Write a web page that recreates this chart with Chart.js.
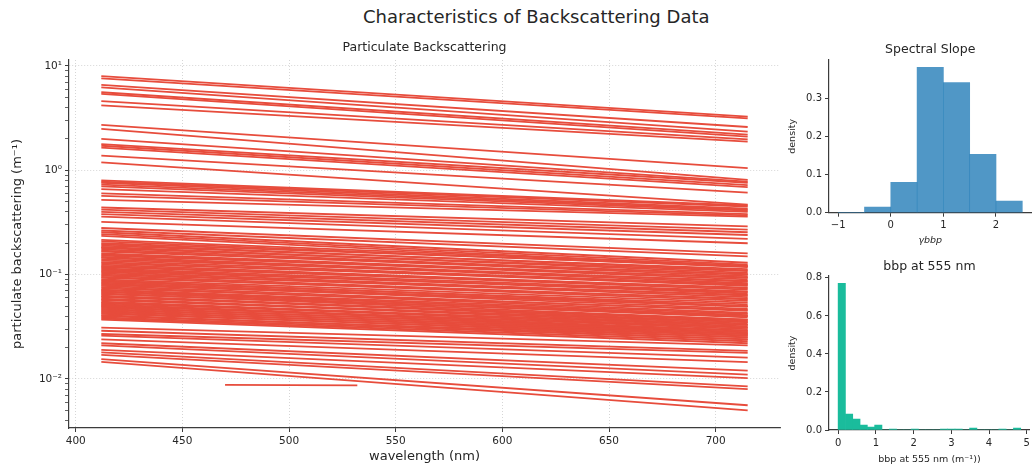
<!DOCTYPE html>
<html><head><meta charset="utf-8">
<script src="https://cdn.jsdelivr.net/npm/chart.js@4.4.1/dist/chart.umd.min.js"></script>
<style>
html,body{margin:0;padding:0;background:#fff;}
body{width:1033px;height:469px;position:relative;overflow:hidden;font-family:"DejaVu Sans",sans-serif;}
#suptitle{position:absolute;left:363px;top:6px;white-space:nowrap;font-size:18px;color:#262626;line-height:22px;}
canvas{position:absolute;}
</style></head><body>
<div id="suptitle">Characteristics of Backscattering Data</div>
<canvas id="main" width="800" height="469" style="left:0;top:0"></canvas>
<canvas id="slope" width="263" height="252" style="left:770px;top:0"></canvas>
<canvas id="bbp" width="263" height="229" style="left:770px;top:240px"></canvas>
<script>
// ---------- data ----------
const WAVELENGTHS = [412, 715];
const BBP_412 = [
  8.0, 7.6, 6.6, 6.25, 5.6, 5.4, 4.6, 4.2,
  2.72, 2.49, 2.0, 1.78, 1.72, 1.65, 1.38, 1.19,
  0.80, 0.78, 0.76, 0.73, 0.70, 0.66, 0.60, 0.57, 0.52,
  0.44, 0.42, 0.40, 0.38, 0.36, 0.32, 0.28, 0.265, 0.255, 0.245, 0.235,
  0.215, 0.208, 0.2, 0.195, 0.19, 0.184, 0.18, 0.175, 0.17, 0.166,
  0.16, 0.156, 0.152, 0.148, 0.145, 0.14, 0.136, 0.132, 0.128, 0.125,
  0.121, 0.118, 0.115, 0.112, 0.109, 0.106, 0.103, 0.1, 0.098, 0.095,
  0.093, 0.09, 0.088, 0.086, 0.084, 0.082, 0.08, 0.078, 0.076, 0.074,
  0.072, 0.071, 0.069, 0.068, 0.066, 0.065, 0.063, 0.062, 0.061, 0.059,
  0.058, 0.057, 0.055, 0.054, 0.053, 0.052, 0.051, 0.05, 0.049, 0.048,
  0.047, 0.046, 0.045, 0.044, 0.043, 0.042, 0.041, 0.04, 0.039, 0.038, 0.037,
  0.031, 0.029, 0.027, 0.026, 0.024, 0.022, 0.021, 0.019, 0.018, 0.017, 0.0155, 0.0146
];
const BBP_715 = [
  3.27, 3.15, 2.6, 2.35, 2.2, 2.1, 1.98, 1.88,
  1.05, 0.81, 0.78, 0.76, 0.72, 0.69, 0.61, 0.47,
  0.46, 0.45, 0.43, 0.42, 0.41, 0.40, 0.38, 0.37, 0.36,
  0.29, 0.27, 0.255, 0.24, 0.22, 0.2, 0.16, 0.15, 0.13, 0.125, 0.12,
  0.122, 0.118, 0.12, 0.11, 0.113, 0.104, 0.108, 0.1, 0.097, 0.101,
  0.093, 0.09, 0.094, 0.086, 0.083, 0.087, 0.08, 0.078, 0.081, 0.074,
  0.072, 0.075, 0.069, 0.066, 0.068, 0.063, 0.061, 0.064, 0.058, 0.056,
  0.059, 0.054, 0.05, 0.052, 0.049, 0.047, 0.05, 0.045, 0.043, 0.046,
  0.042, 0.04, 0.041, 0.039, 0.037, 0.04, 0.036, 0.035, 0.037, 0.034,
  0.033, 0.035, 0.032, 0.031, 0.033, 0.03, 0.029, 0.031, 0.028, 0.029,
  0.027, 0.028, 0.026, 0.027, 0.025, 0.026, 0.024, 0.025, 0.024, 0.023, 0.022,
  0.021, 0.0186, 0.0178, 0.016, 0.0145, 0.012, 0.011, 0.0102, 0.0085, 0.008, 0.0056, 0.005
];
const SHORT_WAVELENGTHS = [470, 532];
const SHORT_BBP = [0.0088, 0.0087];

const X_TICKS = [400, 450, 500, 550, 600, 650, 700];
const Y_DECADES = [0.01, 0.1, 1, 10];
const Y_DECADE_LABELS = ['10⁻²', '10⁻¹', '10⁰', '10¹'];

const SLOPE_EDGES = [-1, -0.5, 0, 0.5, 1, 1.5, 2, 2.5];
const SLOPE_DENSITY = [0, 0.015, 0.08, 0.382, 0.342, 0.153, 0.0305];
const SLOPE_TICKS = [-1, 0, 1, 2];
const SLOPE_Y_TICKS = [0, 0.1, 0.2, 0.3];

const BBP555_EDGES = [0, 0.1936, 0.3872, 0.5808, 0.7744, 0.968, 1.1616, 1.3552, 1.5488, 1.7424,
  1.936, 2.1296, 2.3232, 2.5168, 2.7104, 2.904, 3.0976, 3.2912, 3.4848, 3.6784,
  3.872, 4.0656, 4.2592, 4.4528, 4.6464, 4.84];
const BBP555_DENSITY = [0.772, 0.084, 0.058, 0.026, 0.016, 0.026, 0, 0.005, 0, 0,
  0.005, 0, 0, 0, 0.005, 0.005, 0.005, 0, 0.01, 0,
  0, 0, 0.005, 0, 0.01];
const BBP555_TICKS = [0, 1, 2, 3, 4, 5];
const BBP555_Y_TICKS = [0, 0.2, 0.4, 0.6, 0.8];

// ---------- style ----------
const FONT = '"DejaVu Sans", sans-serif';
const TXT = '#262626';
const SPINE = '#3c3c3c';
const RED = '#e74c3c';
const BLUE = 'rgba(41,128,185,0.82)';
const GREEN = '#1abc9c';
const fmtMinus = v => String(v).replace('-', '\u2212');

// ---------- main chart ----------
const lineSets = BBP_412.map((v, i) => ({
  data: [{x: WAVELENGTHS[0], y: v}, {x: WAVELENGTHS[1], y: BBP_715[i]}],
  borderColor: RED, borderWidth: 1.8, pointRadius: 0, fill: false, tension: 0
}));
lineSets.push({
  data: SHORT_WAVELENGTHS.map((w, i) => ({x: w, y: SHORT_BBP[i]})),
  borderColor: RED, borderWidth: 1.8, pointRadius: 0, fill: false, tension: 0
});

const yTicks = [];
for (let e = -3; e <= 1; e++) {
  for (let m = 1; m <= 9; m++) {
    const v = m * Math.pow(10, e);
    if (v >= 0.00339 && v <= 11.41) yTicks.push({value: v, major: m === 1});
  }
}

new Chart(document.getElementById('main'), {
  type: 'line',
  data: {datasets: lineSets},
  options: {
    responsive: false, animation: false, devicePixelRatio: 1,
    layout: {padding: {left: 0, right: 20, top: 0, bottom: 0}},
    plugins: {
      legend: {display: false}, tooltip: {enabled: false},
      title: {display: true, text: 'Particulate Backscattering', fullSize: false,
        color: TXT, font: {family: FONT, size: 12.5, weight: 'normal', lineHeight: 1.2},
        padding: {top: 40.5, bottom: 4.5}}
    },
    scales: {
      x: {
        type: 'linear', min: 396.85, max: 730.15,
        afterBuildTicks: s => { s.ticks = X_TICKS.map(v => ({value: v})); },
        afterFit: s => { s.height = 41; },
        grid: {color: 'rgba(190,190,190,0.8)', lineWidth: 0.8, tickColor: SPINE, tickLength: 4, tickWidth: 1},
        border: {color: SPINE, width: 1.2, dash: [1, 2]},
        ticks: {color: TXT, font: {family: FONT, size: 10.5}, padding: 3, maxRotation: 0, autoSkip: false},
        title: {display: true, text: 'wavelength (nm)', color: TXT,
          font: {family: FONT, size: 13, lineHeight: 1.2}, padding: {top: 0, bottom: 4.2}}
      },
      y: {
        type: 'logarithmic', min: 0.00339, max: 11.41,
        afterBuildTicks: s => { s.ticks = yTicks.map(t => ({value: t.value, major: t.major})); },
        afterFit: s => { s.width = 69; },
        grid: {
          color: c => (c.tick && c.tick.major) ? 'rgba(190,190,190,0.8)' : 'rgba(0,0,0,0)',
          lineWidth: 0.8, tickColor: SPINE,
          tickLength: 4, tickWidth: c => (c.tick && c.tick.major) ? 1 : 0.8
        },
        border: {color: SPINE, width: 1.2, dash: [1, 2]},
        ticks: {
          color: TXT, font: {family: FONT, size: 10.5}, padding: 3, autoSkip: false,
          callback: (v) => { const k = Y_DECADES.findIndex(d => Math.abs(d - v) < d * 1e-6); return k >= 0 ? Y_DECADE_LABELS[k] : ''; }
        },
        title: {display: true, text: 'particulate backscattering (m⁻¹)', color: TXT,
          font: {family: FONT, size: 13, lineHeight: 1.2}, padding: {top: 10.2, bottom: 0}}
      }
    }
  }
});

// ---------- histograms ----------
function histChart(id, cfg) {
  const centers = cfg.density.map((d, i) => ({x: (cfg.edges[i] + cfg.edges[i + 1]) / 2, y: d}));
  return new Chart(document.getElementById(id), {
    type: 'bar',
    data: {datasets: [{data: centers, backgroundColor: cfg.color, borderWidth: 0,
      barPercentage: 1, categoryPercentage: 1}]},
    options: {
      responsive: false, animation: false, devicePixelRatio: 1,
      layout: {padding: {left: 0, right: cfg.padRight, top: 0, bottom: 0}},
      plugins: {
        legend: {display: false}, tooltip: {enabled: false},
        title: {display: true, text: cfg.title, fullSize: false, color: TXT,
          font: {family: FONT, size: 12.5, weight: 'normal', lineHeight: 1.2}, padding: cfg.titlePad}
      },
      scales: {
        x: {
          type: 'linear', min: cfg.xmin, max: cfg.xmax, offset: false,
          afterBuildTicks: s => { s.ticks = cfg.xticks.map(v => ({value: v})); },
          afterFit: s => { s.height = cfg.xh; },
          grid: {drawOnChartArea: false, color: SPINE, tickLength: 4, tickWidth: 1, offset: false},
          border: {color: SPINE, width: 1.2},
          ticks: {color: TXT, font: {family: FONT, size: 10}, padding: 3, maxRotation: 0, autoSkip: false,
            callback: v => fmtMinus(v)},
          title: {display: true, text: cfg.xtitle, color: TXT,
            font: {family: FONT, size: 9.5, style: cfg.xstyle, lineHeight: 1.2}, padding: {top: 0, bottom: cfg.xtitlePad}}
        },
        y: {
          type: 'linear', min: 0, max: cfg.ymax,
          afterBuildTicks: s => { s.ticks = cfg.yticks.map(v => ({value: v})); },
          afterFit: s => { s.width = 59; },
          grid: {drawOnChartArea: false, color: SPINE, tickLength: 4, tickWidth: 1},
          border: {color: SPINE, width: 1.2},
          ticks: {color: TXT, font: {family: FONT, size: 10}, padding: 3, autoSkip: false,
            callback: v => Number(v).toFixed(1)},
          title: {display: true, text: 'density', color: TXT,
            font: {family: FONT, size: 9.5, lineHeight: 1.2}, padding: {top: 17.3, bottom: 0}}
        }
      }
    }
  });
}

histChart('slope', {
  edges: SLOPE_EDGES, density: SLOPE_DENSITY, color: BLUE, title: 'Spectral Slope',
  titlePad: {top: 41.8, bottom: 3.2}, padRight: 1.5,
  xmin: -1.175, xmax: 2.675, xticks: SLOPE_TICKS, xh: 39.3,
  xtitle: 'γbbp', xstyle: 'italic', xtitlePad: 5.3,
  ymax: 0.401, yticks: SLOPE_Y_TICKS
});

histChart('bbp', {
  edges: BBP555_EDGES, density: BBP555_DENSITY, color: GREEN, title: 'bbp at 555 nm',
  titlePad: {top: 19.2, bottom: 1.8}, padRight: 1,
  xmin: -0.242, xmax: 5.082, xticks: BBP555_TICKS, xh: 39,
  xtitle: 'bbp at 555 nm (m⁻¹))', xstyle: 'normal', xtitlePad: 3.3,
  ymax: 0.81, yticks: BBP555_Y_TICKS
});
</script>
</body></html>
